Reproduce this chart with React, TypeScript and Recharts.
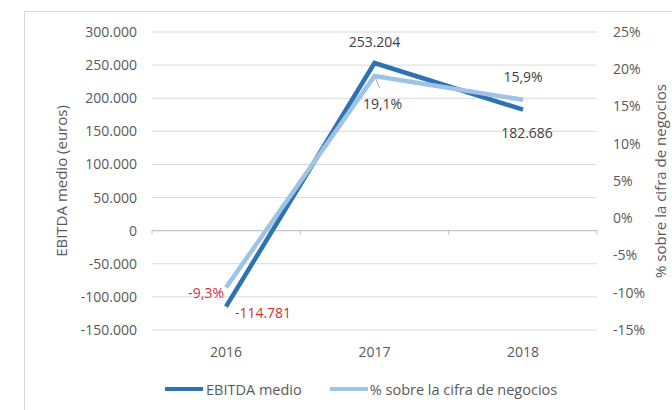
import React from 'react';
import { LineChart, Line, XAxis, YAxis, CartesianGrid, ReferenceLine, LabelList, Legend } from 'recharts';

const years = ['2016', '2017', '2018'];
const ebitda = [-114781, 253204, 182686];
const pct = [-9.3, 19.1, 15.9];
const leftTicks = [-150000, -100000, -50000, 0, 50000, 100000, 150000, 200000, 250000, 300000];
const rightTicks = [-15, -10, -5, 0, 5, 10, 15, 20, 25];

const data = years.map((y, i) => ({ year: y, ebitda: ebitda[i], pct: pct[i] }));

const DARK = '#2E72B2';
const LIGHT = '#9DC3E6';
const RED = '#D0313A';
const TXT = '#404040';
const AXT = '#595959';
const FONT = '"Open Sans", sans-serif';

const fmtThousands = (v: number) => {
  if (v === 0) return '0';
  const s = Math.abs(v).toString().replace(/\B(?=(\d{3})+(?!\d))/g, '.');
  return (v < 0 ? '-' : '') + s;
};
const fmtPct = (v: number) => v.toFixed(1).replace('.', ',') + '%';

const EbitdaLabel = (props: any) => {
  const { x, y, index, value } = props;
  const txt = fmtThousands(value);
  if (index === 0) return <text x={x + 37} y={y + 11} textAnchor="middle" fill={RED} fontSize={14} fontFamily={FONT}>{txt}</text>;
  if (index === 1) return <text x={x} y={y - 16} textAnchor="middle" fill={TXT} fontSize={14} fontFamily={FONT}>{txt}</text>;
  return <text x={x + 4} y={y + 28} textAnchor="middle" fill={TXT} fontSize={14} fontFamily={FONT}>{txt}</text>;
};

const PctLabel = (props: any) => {
  const { x, y, index, value } = props;
  const txt = fmtPct(value);
  if (index === 0) return <text x={x - 2} y={y + 10} textAnchor="end" fill={RED} fontSize={14} fontFamily={FONT}>{txt}</text>;
  if (index === 1)
    return (
      <g>
        <line x1={x + 1} y1={y + 2} x2={x + 5} y2={y + 12} stroke="#a6a6a6" strokeWidth={1} />
        <text x={x + 8} y={y + 33} textAnchor="middle" fill={TXT} fontSize={14} fontFamily={FONT}>{txt}</text>
      </g>
    );
  return <text x={x} y={y - 18} textAnchor="middle" fill={TXT} fontSize={14} fontFamily={FONT}>{txt}</text>;
};

const ZeroAxis = (props: any) => {
  const { x1, x2, y1 } = props;
  if (x1 == null) return null;
  const n = years.length;
  const ticks = Array.from({ length: n + 1 }, (_, k) => x1 + (k * (x2 - x1)) / n);
  return (
    <g>
      <line x1={x1} x2={x2} y1={y1} y2={y1} stroke="#bfbfbf" strokeWidth={1} />
      {ticks.map((tx, k) => (
        <line key={k} x1={tx} x2={tx} y1={y1} y2={y1 + 4} stroke="#bfbfbf" strokeWidth={1} />
      ))}
    </g>
  );
};

const LegendContent = () => (
  <div style={{ position: 'relative', height: 30, fontFamily: FONT, fontSize: 14.5, color: AXT }}>
    <div style={{ position: 'absolute', left: 165, top: 5, display: 'flex', alignItems: 'center', whiteSpace: 'nowrap' }}>
      <svg width={38} height={20}><line x1={0} x2={38} y1={10} y2={10} stroke={DARK} strokeWidth={4} strokeLinecap="round" /></svg>
      <span style={{ marginLeft: 3 }}>EBITDA medio</span>
      <svg width={38} height={20} style={{ marginLeft: 28 }}><line x1={0} x2={38} y1={10} y2={10} stroke={LIGHT} strokeWidth={4} strokeLinecap="round" /></svg>
      <span style={{ marginLeft: 2 }}>% sobre la cifra de negocios</span>
    </div>
  </div>
);

export default function App() {
  return (
    <div style={{ position: 'absolute', left: 0, top: 0, width: 672, height: 410, background: '#fff', overflow: 'hidden' }}>
      <div style={{ position: 'absolute', left: 24, top: 11, width: 700, height: 450, border: '1px solid #d9d9d9', boxSizing: 'border-box' }} />
      <div style={{ position: 'absolute', left: 0, top: 0 }}>
        <LineChart width={672} height={410} data={data} margin={{ top: 32, right: 0, left: 8, bottom: 6 }}>
          <CartesianGrid yAxisId="left" vertical={false} stroke="#d9d9d9" />
          <XAxis
            dataKey="year"
            axisLine={false}
            tickLine={false}
            tickSize={0}
            tickMargin={17}
            height={44}
            padding={{ left: 74, right: 74 }}
            tick={{ fill: AXT, fontSize: 14, fontFamily: FONT }}
          />
          <YAxis
            yAxisId="left"
            width={144}
            domain={[-150000, 300000]}
            ticks={leftTicks}
            interval={0}
            axisLine={false}
            tickLine={false}
            tickSize={0}
            tickMargin={15}
            tickFormatter={fmtThousands}
            tick={{ fill: AXT, fontSize: 14, fontFamily: FONT }}
            label={{ value: 'EBITDA medio (euros)', angle: -90, position: 'center', dx: -18, fill: AXT, fontSize: 15, fontFamily: FONT }}
          />
          <YAxis
            yAxisId="right"
            orientation="right"
            width={75}
            domain={[-15, 25]}
            ticks={rightTicks}
            interval={0}
            axisLine={false}
            tickLine={false}
            tickSize={0}
            tickMargin={16}
            tickFormatter={(v: number) => `${v}%`}
            tick={{ fill: AXT, fontSize: 14, fontFamily: FONT, textAnchor: 'start' }}
            label={{ value: '% sobre la cifra de negocios', angle: -90, position: 'center', dx: 26, fill: AXT, fontSize: 15, fontFamily: FONT }}
          />
          <ReferenceLine yAxisId="left" y={0} shape={ZeroAxis} />
          <Legend verticalAlign="bottom" content={LegendContent} wrapperStyle={{ height: 30, left: 0, width: 672 }} />
          <Line yAxisId="left" dataKey="ebitda" name="EBITDA medio" stroke={DARK} strokeWidth={4.5} dot={false} isAnimationActive={false}>
            <LabelList dataKey="ebitda" content={EbitdaLabel} />
          </Line>
          <Line yAxisId="right" dataKey="pct" name="% sobre la cifra de negocios" stroke={LIGHT} strokeWidth={4.5} dot={false} isAnimationActive={false}>
            <LabelList dataKey="pct" content={PctLabel} />
          </Line>
        </LineChart>
      </div>
    </div>
  );
}
